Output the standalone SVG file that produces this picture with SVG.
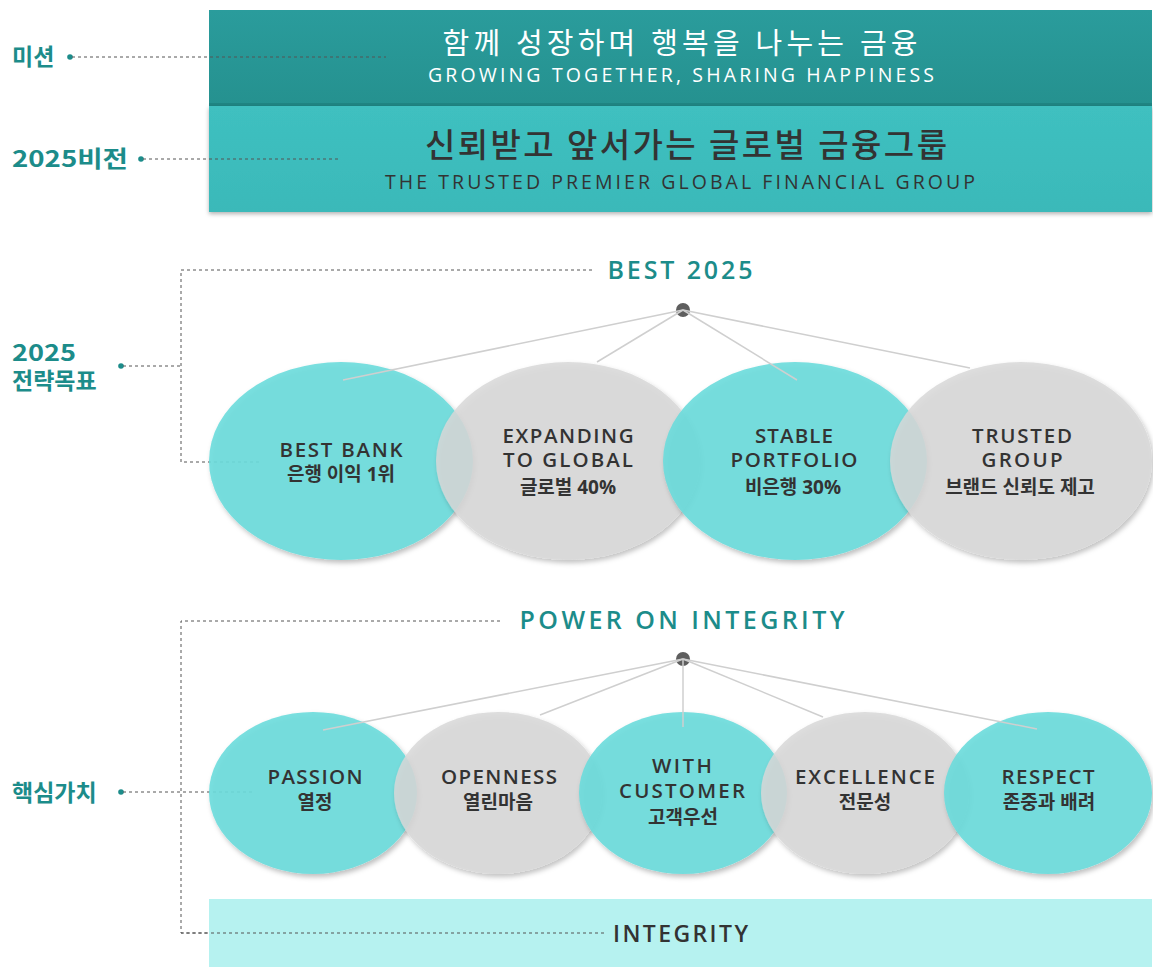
<svg xmlns="http://www.w3.org/2000/svg" width="1153" height="967" viewBox="0 0 1153 967">
<defs>
<filter id="sh" x="-10%" y="-10%" width="125%" height="130%">
<feDropShadow dx="2" dy="3" stdDeviation="2.5" flood-color="#000" flood-opacity="0.28"/>
</filter>
<filter id="bsh" x="-5%" y="-10%" width="110%" height="130%">
<feDropShadow dx="0" dy="2" stdDeviation="2" flood-color="#000" flood-opacity="0.3"/>
</filter>
<linearGradient id="g1" x1="0" y1="0" x2="0" y2="1">
<stop offset="0" stop-color="#2a9c9c"/>
<stop offset="1" stop-color="#25918f"/>
</linearGradient>
<linearGradient id="g2" x1="0" y1="0" x2="0" y2="1">
<stop offset="0" stop-color="#3fc0c0"/>
<stop offset="1" stop-color="#3ab9b9"/>
</linearGradient>
</defs>
<style>
text{font-family:"Open Sans","Noto Sans CJK KR",sans-serif}
.lbl{fill:#1c8c8a;font-weight:bold;font-size:23px;font-family:"Noto Sans CJK KR",sans-serif}
.hd{fill:#1c8c8a;font-weight:600;font-size:25px}
.ct{fill:#333;font-weight:600;font-size:20.5px;text-anchor:middle}
.kt{fill:#333;font-size:19px;font-weight:bold;text-anchor:middle}
.dash{stroke:#555;stroke-width:1;stroke-dasharray:3 3;fill:none}
.lk{stroke:#cfcfcf;stroke-width:1.5;fill:none}
.teal{fill:#6cdcdc;fill-opacity:0.9}
.gray{fill:#d8d8d8;fill-opacity:0.85}
.dot{fill:#5e5e5e}
.ld{fill:#1c8c8a}
</style>
<rect width="1153" height="967" fill="#fff"/>

<g id="mission">
<rect x="209" y="10" width="943" height="96" fill="url(#g1)"/>
<rect x="209" y="103" width="943" height="3" fill="#1f8583"/>
<text x="680" y="54" text-anchor="middle" fill="#fff" font-size="29" textLength="475" lengthAdjust="spacing">함께 성장하며 행복을 나누는 금융</text>
<text x="681" y="82" text-anchor="middle" fill="#fff" font-size="19.5" textLength="506" lengthAdjust="spacing">GROWING TOGETHER, SHARING HAPPINESS</text>
</g>
<g id="vision">
<rect x="209" y="106" width="943" height="106" fill="url(#g2)" filter="url(#bsh)"/>
<text x="686" y="157" text-anchor="middle" fill="#333" font-size="33" font-weight="500" textLength="522" lengthAdjust="spacing">신뢰받고 앞서가는 글로벌 금융그룹</text>
<text x="680" y="189" text-anchor="middle" fill="#333" font-size="19.5" textLength="590" lengthAdjust="spacing">THE TRUSTED PREMIER GLOBAL FINANCIAL GROUP</text>
</g>

<g id="labels">
<text class="lbl" x="12" y="65" font-size="23">미션</text>
<text class="lbl" x="12" y="167" textLength="116" lengthAdjust="spacingAndGlyphs">2025비전</text>
<text class="lbl" x="12" y="361" textLength="64" lengthAdjust="spacingAndGlyphs">2025</text>
<text class="lbl" x="12" y="389" font-size="24">전략목표</text>
<text class="lbl" x="12" y="801" font-size="24">핵심가치</text>
</g>

<g id="connectors">
<circle class="ld" cx="70" cy="57" r="2.8"/>
<line class="dash" x1="72" y1="57" x2="386" y2="57"/>
<circle class="ld" cx="141" cy="159" r="2.8"/>
<line class="dash" x1="143" y1="159" x2="340" y2="159"/>
<circle class="ld" cx="121" cy="366" r="2.8"/>
<line class="dash" x1="123" y1="366" x2="181" y2="366"/>
<polyline class="dash" points="592,270 181,270 181,462 262,462"/>
<circle class="ld" cx="121" cy="792" r="2.8"/>
<line class="dash" x1="123" y1="792" x2="255" y2="792"/>
<polyline class="dash" points="500,621 181,621 181,933 606,933"/>
</g>

<g id="best2025">
<text class="hd" x="680" y="279" text-anchor="middle" textLength="145" lengthAdjust="spacing">BEST 2025</text>
<circle class="dot" cx="683" cy="310" r="7"/>
</g>

<g id="row1">
<g id="best-bank">
<ellipse class="teal" cx="341" cy="461" rx="132" ry="99" filter="url(#sh)"/>
</g>
<g id="expanding">
<ellipse class="gray" cx="568" cy="461" rx="132" ry="99" filter="url(#sh)"/>
</g>
<g id="stable">
<ellipse class="teal" cx="795" cy="461" rx="132" ry="99" filter="url(#sh)"/>
</g>
<g id="trusted">
<ellipse class="gray" cx="1021" cy="461" rx="131" ry="99" filter="url(#sh)"/>
</g>
</g>

<g id="links1">
<line class="lk" x1="683" y1="310" x2="343" y2="380"/>
<line class="lk" x1="683" y1="310" x2="597" y2="362"/>
<line class="lk" x1="683" y1="310" x2="797" y2="380"/>
<line class="lk" x1="683" y1="310" x2="970" y2="368"/>
</g>

<g id="row1-text">
<text class="ct" x="341" y="457" textLength="123" lengthAdjust="spacing">BEST BANK</text>
<text class="kt" x="341" y="481">은행 이익 1위</text>
<text class="ct" x="568" y="443" textLength="131" lengthAdjust="spacing">EXPANDING</text>
<text class="ct" x="568" y="467" textLength="130" lengthAdjust="spacing">TO GLOBAL</text>
<text class="kt" x="568" y="494">글로벌 40%</text>
<text class="ct" x="794" y="443" textLength="78" lengthAdjust="spacing">STABLE</text>
<text class="ct" x="794" y="467" textLength="127" lengthAdjust="spacing">PORTFOLIO</text>
<text class="kt" x="793" y="494">비은행 30%</text>
<text class="ct" x="1022" y="443" textLength="100" lengthAdjust="spacing">TRUSTED</text>
<text class="ct" x="1022" y="467" textLength="81" lengthAdjust="spacing">GROUP</text>
<text class="kt" x="1020" y="494" font-size="18">브랜드 신뢰도 제고</text>
</g>

<g id="power">
<text class="hd" x="682" y="629" text-anchor="middle" textLength="325" lengthAdjust="spacing">POWER ON INTEGRITY</text>
<circle class="dot" cx="683" cy="659" r="7"/>
</g>

<g id="row2">
<g id="passion"><ellipse class="teal" cx="313" cy="793" rx="104" ry="81" filter="url(#sh)"/></g>
<g id="openness"><ellipse class="gray" cx="498" cy="793" rx="104" ry="81" filter="url(#sh)"/></g>
<g id="with-customer"><ellipse class="teal" cx="683" cy="793" rx="104" ry="81" filter="url(#sh)"/></g>
<g id="excellence"><ellipse class="gray" cx="865" cy="793" rx="104" ry="81" filter="url(#sh)"/></g>
<g id="respect"><ellipse class="teal" cx="1048" cy="793" rx="104" ry="81" filter="url(#sh)"/></g>
</g>

<g id="links2">
<line class="lk" x1="683" y1="659" x2="323" y2="730"/>
<line class="lk" x1="683" y1="659" x2="540" y2="715"/>
<line class="lk" x1="683" y1="659" x2="683" y2="727"/>
<line class="lk" x1="683" y1="659" x2="823" y2="717"/>
<line class="lk" x1="683" y1="659" x2="1037" y2="729"/>
</g>

<g id="row2-text">
<text class="ct" x="315" y="784" textLength="95" lengthAdjust="spacing">PASSION</text>
<text class="kt" x="315" y="809">열정</text>
<text class="ct" x="499" y="784" textLength="116" lengthAdjust="spacing">OPENNESS</text>
<text class="kt" x="498" y="809">열린마음</text>
<text class="ct" x="682" y="773" textLength="60" lengthAdjust="spacing">WITH</text>
<text class="ct" x="682" y="798" textLength="126" lengthAdjust="spacing">CUSTOMER</text>
<text class="kt" x="683" y="824">고객우선</text>
<text class="ct" x="865" y="784" textLength="140" lengthAdjust="spacing">EXCELLENCE</text>
<text class="kt" x="865" y="809">전문성</text>
<text class="ct" x="1048" y="784" textLength="93" lengthAdjust="spacing">RESPECT</text>
<text class="kt" x="1049" y="809">존중과 배려</text>
</g>

<g id="integrity">
<rect x="209" y="899" width="943" height="68" fill="#b6f2f0"/>
<polyline class="dash" points="181,933 606,933"/>
<text x="613" y="942" fill="#333" font-size="23" font-weight="600" textLength="135" lengthAdjust="spacing">INTEGRITY</text>
</g>
</svg>
